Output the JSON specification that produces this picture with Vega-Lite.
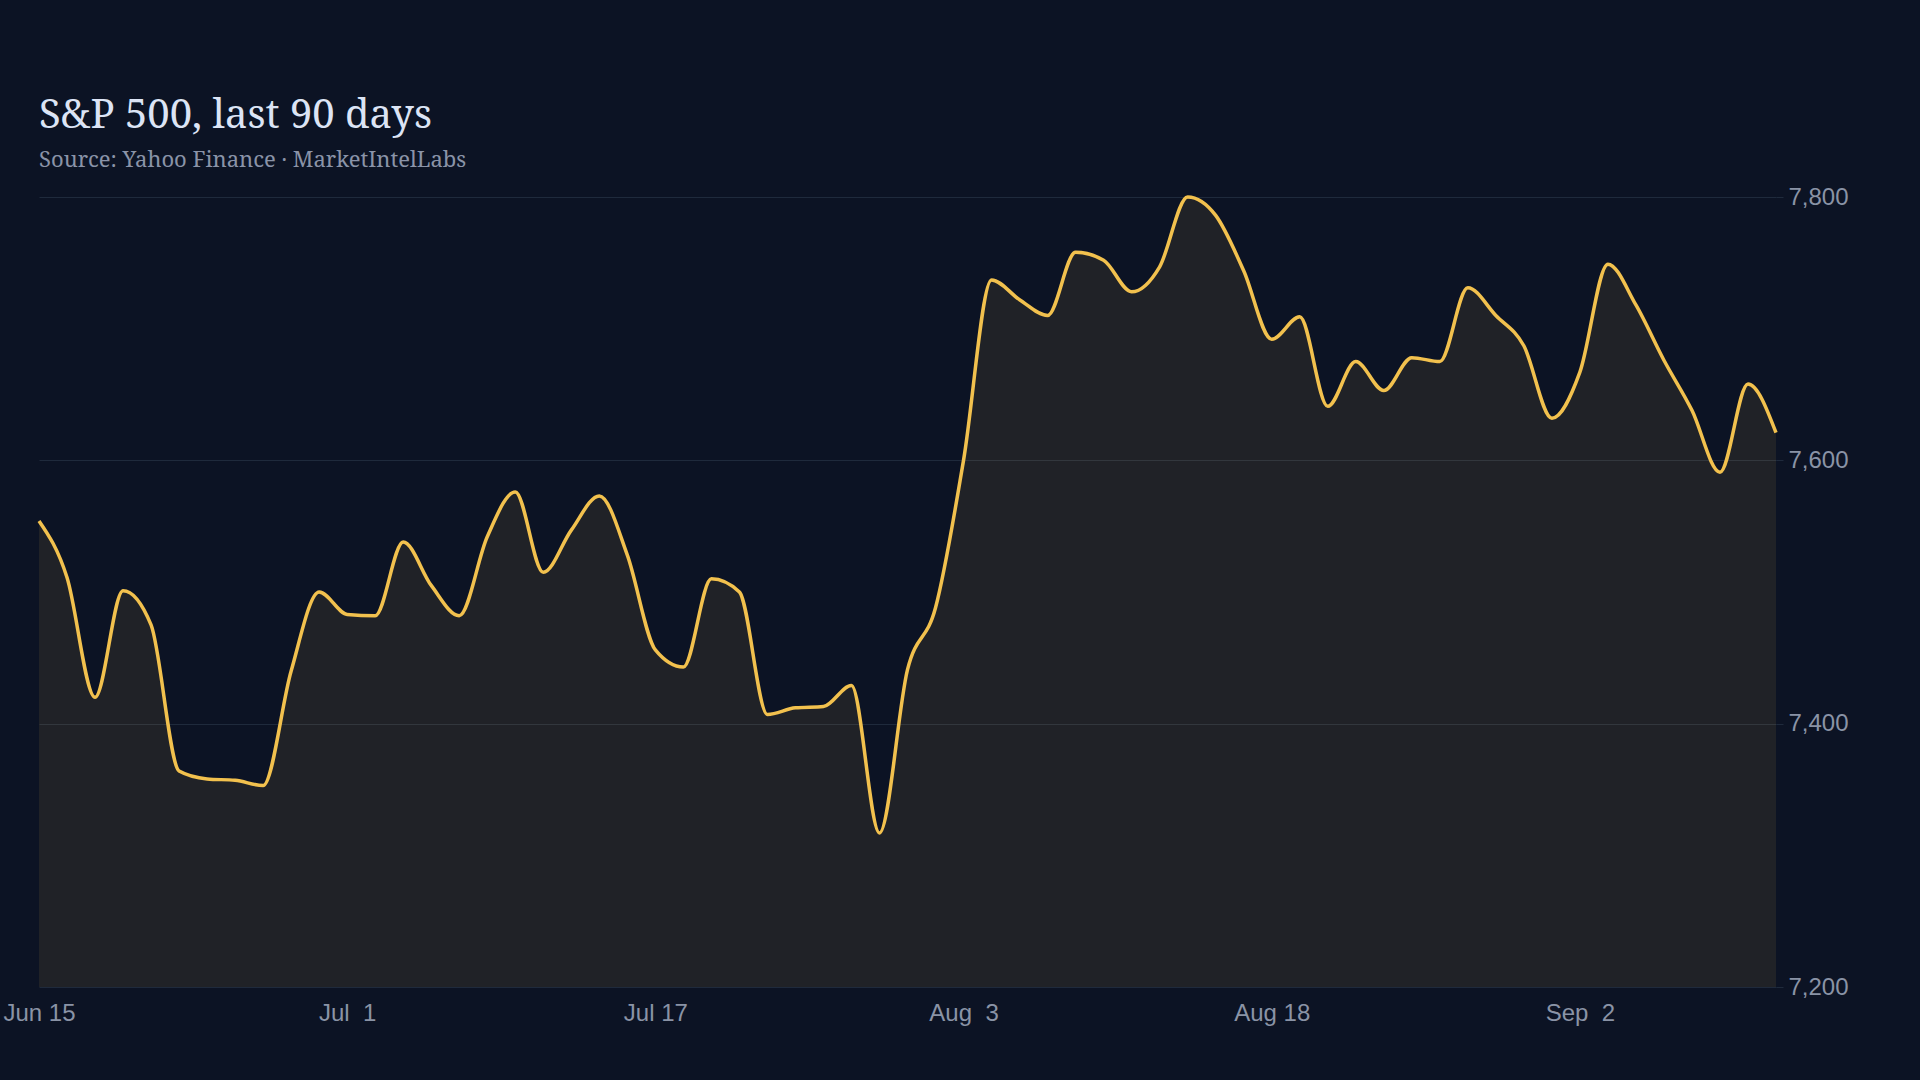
{
  "$schema": "https://vega.github.io/schema/vega-lite/v6.json",
  "description": "S&P 500 close over the last 90 days (trading days only).",
  "width": 1920,
  "height": 1080,
  "autosize": {"type": "fit", "contains": "padding"},
  "padding": {"left": 2, "top": 96, "right": 71, "bottom": 55},
  "background": "#0c1324",
  "title": {
    "text": "S&P 500, last 90 days",
    "subtitle": "Source: Yahoo Finance · MarketIntelLabs",
    "anchor": "start",
    "frame": "group",
    "font": "Noto Serif, DejaVu Serif, serif",
    "fontSize": 40,
    "fontWeight": "normal",
    "color": "#dce4f5",
    "subtitleFont": "Noto Serif, DejaVu Serif, serif",
    "subtitleFontSize": 22,
    "subtitleColor": "#8a93a8",
    "subtitlePadding": 14,
    "offset": 14
  },
  "data": {
    "values": [
      {"date": "2026-06-15", "close": 7554},
      {"date": "2026-06-16", "close": 7511},
      {"date": "2026-06-17", "close": 7420},
      {"date": "2026-06-18", "close": 7501},
      {"date": "2026-06-22", "close": 7475},
      {"date": "2026-06-23", "close": 7364},
      {"date": "2026-06-24", "close": 7358},
      {"date": "2026-06-25", "close": 7357},
      {"date": "2026-06-26", "close": 7353},
      {"date": "2026-06-29", "close": 7440},
      {"date": "2026-06-30", "close": 7500},
      {"date": "2026-07-01", "close": 7483},
      {"date": "2026-07-02", "close": 7482},
      {"date": "2026-07-06", "close": 7538},
      {"date": "2026-07-07", "close": 7505},
      {"date": "2026-07-08", "close": 7482},
      {"date": "2026-07-09", "close": 7542},
      {"date": "2026-07-10", "close": 7576},
      {"date": "2026-07-13", "close": 7515},
      {"date": "2026-07-14", "close": 7547},
      {"date": "2026-07-15", "close": 7573},
      {"date": "2026-07-16", "close": 7528},
      {"date": "2026-07-17", "close": 7456},
      {"date": "2026-07-20", "close": 7443},
      {"date": "2026-07-21", "close": 7510},
      {"date": "2026-07-22", "close": 7500},
      {"date": "2026-07-23", "close": 7407},
      {"date": "2026-07-24", "close": 7412},
      {"date": "2026-07-27", "close": 7413},
      {"date": "2026-07-28", "close": 7429},
      {"date": "2026-07-29", "close": 7317},
      {"date": "2026-07-30", "close": 7441},
      {"date": "2026-07-31", "close": 7488},
      {"date": "2026-08-03", "close": 7600},
      {"date": "2026-08-04", "close": 7737},
      {"date": "2026-08-05", "close": 7722},
      {"date": "2026-08-06", "close": 7710},
      {"date": "2026-08-07", "close": 7758},
      {"date": "2026-08-10", "close": 7752},
      {"date": "2026-08-11", "close": 7728},
      {"date": "2026-08-12", "close": 7747},
      {"date": "2026-08-13", "close": 7800},
      {"date": "2026-08-14", "close": 7786},
      {"date": "2026-08-17", "close": 7744},
      {"date": "2026-08-18", "close": 7692},
      {"date": "2026-08-19", "close": 7709},
      {"date": "2026-08-20", "close": 7641},
      {"date": "2026-08-21", "close": 7675},
      {"date": "2026-08-24", "close": 7653},
      {"date": "2026-08-25", "close": 7678},
      {"date": "2026-08-26", "close": 7675},
      {"date": "2026-08-27", "close": 7731},
      {"date": "2026-08-28", "close": 7710},
      {"date": "2026-08-31", "close": 7687},
      {"date": "2026-09-01", "close": 7632},
      {"date": "2026-09-02", "close": 7667},
      {"date": "2026-09-03", "close": 7749},
      {"date": "2026-09-04", "close": 7718},
      {"date": "2026-09-08", "close": 7676},
      {"date": "2026-09-09", "close": 7638},
      {"date": "2026-09-10", "close": 7591},
      {"date": "2026-09-11", "close": 7658},
      {"date": "2026-09-14", "close": 7621}
    ]
  },
  "encoding": {
    "x": {
      "field": "date",
      "type": "ordinal",
      "scale": {"type": "point", "padding": 0},
      "axis": {
        "title": null,
        "values": ["2026-06-15", "2026-07-01", "2026-07-17", "2026-08-03", "2026-08-18", "2026-09-02"],
        "labelExpr": "replace(utcFormat(toDate(datum.value), '%b %e'), '  ', ' \u00a0')",
        "labelAngle": 0,
        "domain": false,
        "ticks": false,
        "grid": false,
        "labelPadding": 14
      }
    },
    "y": {
      "field": "close",
      "type": "quantitative",
      "scale": {"domain": [7200, 7800], "zero": false, "nice": false},
      "axis": {
        "title": null,
        "orient": "right",
        "values": [7200, 7400, 7600, 7800],
        "format": ",.0f",
        "domain": false,
        "ticks": true,
        "tickSize": 7,
        "tickColor": "#1f2a3c",
        "labelPadding": 5,
        "grid": true,
        "gridColor": "#1f2a3c"
      }
    }
  },
  "layer": [
    {
      "mark": {"type": "area", "interpolate": "monotone", "color": "#f2c14e", "opacity": 0.09},
      "encoding": {"y2": {"datum": 7200}}
    },
    {
      "mark": {"type": "line", "interpolate": "monotone", "color": "#f2c14e", "strokeWidth": 3.5}
    }
  ],
  "config": {
    "view": {"stroke": null},
    "axis": {
      "labelFont": "Liberation Sans, Arial, sans-serif",
      "labelFontSize": 24,
      "labelColor": "#8a93a6"
    }
  }
}
